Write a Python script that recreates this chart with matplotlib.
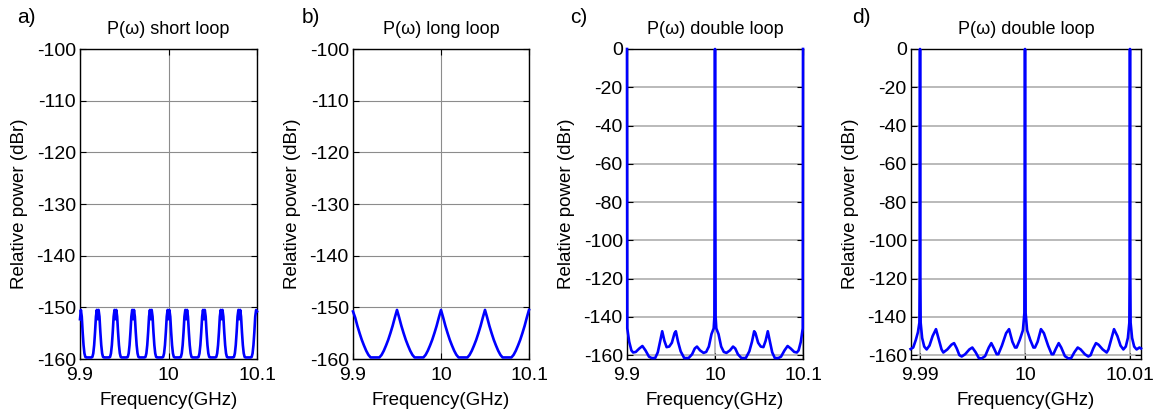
import numpy as np
import matplotlib
matplotlib.use("Agg")
import matplotlib.pyplot as plt

plt.rcParams['font.family'] = ['Liberation Sans', 'DejaVu Sans']
plt.rcParams['axes.unicode_minus'] = False

# ---- data (frequency in GHz, power in dBr) ----
# a) short loop, sampled every 1 MHz from 9.9 to 10.1 GHz
a_power = [
    -152.3, -150.5, -151.8, -154.8, -157.3, -158.9, -159.6, -159.7, -159.7, -159.7, -159.7, -159.7, -159.7, -159.7, -159.6, -158.9, -157.3, -154.8, -151.8, -150.5,
    -152.3, -150.5, -151.8, -154.8, -157.3, -158.9, -159.6, -159.7, -159.7, -159.7, -159.7, -159.7, -159.7, -159.7, -159.6, -158.9, -157.3, -154.8, -151.8, -150.5,
    -152.3, -150.5, -151.8, -154.8, -157.3, -158.9, -159.6, -159.7, -159.7, -159.7, -159.7, -159.7, -159.7, -159.7, -159.6, -158.9, -157.3, -154.8, -151.8, -150.5,
    -152.3, -150.5, -151.8, -154.8, -157.3, -158.9, -159.6, -159.7, -159.7, -159.7, -159.7, -159.7, -159.7, -159.7, -159.6, -158.9, -157.3, -154.8, -151.8, -150.5,
    -152.3, -150.5, -151.8, -154.8, -157.3, -158.9, -159.6, -159.7, -159.7, -159.7, -159.7, -159.7, -159.7, -159.7, -159.6, -158.9, -157.3, -154.8, -151.8, -150.5,
    -152.3, -150.5, -151.8, -154.8, -157.3, -158.9, -159.6, -159.7, -159.7, -159.7, -159.7, -159.7, -159.7, -159.7, -159.6, -158.9, -157.3, -154.8, -151.8, -150.5,
    -152.3, -150.5, -151.8, -154.8, -157.3, -158.9, -159.6, -159.7, -159.7, -159.7, -159.7, -159.7, -159.7, -159.7, -159.6, -158.9, -157.3, -154.8, -151.8, -150.5,
    -152.3, -150.5, -151.8, -154.8, -157.3, -158.9, -159.6, -159.7, -159.7, -159.7, -159.7, -159.7, -159.7, -159.7, -159.6, -158.9, -157.3, -154.8, -151.8, -150.5,
    -152.3, -150.5, -151.8, -154.8, -157.3, -158.9, -159.6, -159.7, -159.7, -159.7, -159.7, -159.7, -159.7, -159.7, -159.6, -158.9, -157.3, -154.8, -151.8, -150.5,
    -152.3, -150.5, -151.8, -154.8, -157.3, -158.9, -159.6, -159.7, -159.7, -159.7, -159.7, -159.7, -159.7, -159.7, -159.6, -158.9, -157.3, -154.8, -151.8, -150.5,
    -150.8,
]
a_freq = np.linspace(9.9, 10.1, len(a_power))

# b) long loop, sampled every 2.5 MHz
b_power = [
    -150.8, -152.0, -153.6, -155.0, -156.3, -157.4, -158.4, -159.2, -159.7, -159.7, -159.7, -159.7, -159.7, -159.2, -158.4, -157.4, -156.3, -155.0, -153.6, -152.0,
    -150.5, -152.0, -153.6, -155.0, -156.3, -157.4, -158.4, -159.2, -159.7, -159.7, -159.7, -159.7, -159.7, -159.2, -158.4, -157.4, -156.3, -155.0, -153.6, -152.0,
    -150.5, -152.0, -153.6, -155.0, -156.3, -157.4, -158.4, -159.2, -159.7, -159.7, -159.7, -159.7, -159.7, -159.2, -158.4, -157.4, -156.3, -155.0, -153.6, -152.0,
    -150.5, -152.0, -153.6, -155.0, -156.3, -157.4, -158.4, -159.2, -159.7, -159.7, -159.7, -159.7, -159.7, -159.2, -158.4, -157.4, -156.3, -155.0, -153.6, -152.0,
    -150.5,
]
b_freq = np.linspace(9.9, 10.1, len(b_power))

# c) double loop, wide span
c_freq = [9.9000, 9.9003, 9.9025, 9.9050, 9.9070, 9.9100, 9.9140, 9.9175, 9.9210, 9.9250,
          9.9280, 9.9320, 9.9350, 9.9380, 9.9400, 9.9425, 9.9450, 9.9480, 9.9510, 9.9540,
          9.9555, 9.9580, 9.9610, 9.9650, 9.9700, 9.9740, 9.9770, 9.9795, 9.9830, 9.9870,
          9.9900, 9.9930, 9.9960, 9.9985, 9.9993, 10.0000,
          10.0007, 10.0015, 10.0040, 10.0070, 10.0100, 10.0130, 10.0170, 10.0205, 10.0230,
          10.0260, 10.0300, 10.0350, 10.0390, 10.0420, 10.0445, 10.0460, 10.0490, 10.0520,
          10.0550, 10.0575, 10.0600, 10.0620, 10.0650, 10.0680, 10.0720, 10.0750, 10.0790,
          10.0825, 10.0860, 10.0900, 10.0930, 10.0950, 10.0975, 10.0997, 10.1000]
c_power = [0, -146.0, -153.0, -157.5, -158.6, -158.3, -156.5, -155.2, -157.5, -160.8,
           -161.5, -161.5, -158.5, -152.0, -147.5, -152.5, -155.8, -155.5, -153.5, -148.5,
           -147.5, -153.0, -158.0, -161.5, -161.5, -159.5, -156.5, -155.5, -157.5, -158.8,
           -158.3, -155.5, -149.0, -146.0, -140.0, 0,
           -140.0, -146.0, -149.0, -155.5, -158.3, -158.8, -157.5, -155.5, -156.5,
           -159.5, -161.5, -161.5, -158.0, -153.0, -147.5, -148.5, -153.5, -155.5,
           -155.8, -152.5, -147.5, -152.0, -158.5, -161.5, -161.5, -160.8, -157.5,
           -155.2, -156.5, -158.3, -158.6, -157.5, -153.0, -146.0, 0]

# d) double loop, narrow span
d_freq = [9.98910, 9.98935, 9.98960, 9.98980, 9.98994, 9.98997, 9.99000,
          9.99003, 9.99006, 9.99020, 9.99040, 9.99063, 9.99090, 9.99120, 9.99152, 9.99180,
          9.99205, 9.99222, 9.99260, 9.99300, 9.99324, 9.99350, 9.99375, 9.99397, 9.99430,
          9.99470, 9.99498, 9.99530, 9.99560, 9.99587, 9.99620, 9.99655, 9.99679, 9.99705,
          9.99730, 9.99746, 9.99780, 9.99820, 9.99848, 9.99880, 9.99905, 9.99920, 9.99950,
          9.99980, 9.99994, 10.00000,
          10.00006, 10.00020, 10.00050, 10.00080, 10.00095, 10.00120, 10.00152, 10.00180,
          10.00220, 10.00254, 10.00270, 10.00295, 10.00321, 10.00345, 10.00380, 10.00413,
          10.00440, 10.00470, 10.00502, 10.00530, 10.00570, 10.00603, 10.00625, 10.00650,
          10.00676, 10.00700, 10.00740, 10.00778, 10.00795, 10.00820, 10.00848, 10.00880,
          10.00910, 10.00937, 10.00960, 10.00980, 10.00994, 10.00997, 10.01000,
          10.01003, 10.01006, 10.01020, 10.01040, 10.01063, 10.01090, 10.01105]
d_power = [-156.8, -156.0, -152.0, -148.0, -143.0, -117.0, 0,
           -117.0, -143.0, -151.0, -155.5, -157.0, -155.0, -150.0, -146.4, -152.0,
           -157.0, -158.6, -157.0, -154.5, -153.7, -156.5, -160.0, -160.7, -159.5,
           -157.0, -156.0, -158.5, -161.5, -161.7, -160.5, -156.0, -153.7, -156.5,
           -159.5, -159.5, -155.0, -148.5, -146.4, -153.0, -156.0, -156.0, -152.0,
           -147.0, -138.0, 0,
           -138.0, -147.0, -152.0, -156.0, -156.0, -153.0, -146.4, -148.5,
           -155.0, -159.5, -159.5, -156.5, -153.7, -156.0, -160.5, -161.7,
           -161.5, -158.5, -156.0, -157.0, -159.5, -160.7, -160.0, -156.5,
           -153.7, -154.5, -157.0, -158.6, -157.0, -152.0, -146.4, -150.0,
           -155.0, -157.0, -155.5, -151.0, -143.0, -117.0, 0,
           -117.0, -143.0, -151.0, -155.5, -157.0, -156.0, -156.5]

titles = ['P(ω) short loop', 'P(ω) long loop', 'P(ω) double loop', 'P(ω) double loop']
letters = ['a)', 'b)', 'c)', 'd)']
xlims = [(9.9, 10.1), (9.9, 10.1), (9.9, 10.1), (9.98914, 10.01105)]
xticks = [[9.9, 10.0, 10.1]] * 3 + [[9.99, 10.0, 10.01]]
xticklabels = [['9.9', '10', '10.1']] * 3 + [['9.99', '10', '10.01']]
ylims = [(-160, -100), (-160, -100), (-162, 0), (-162, 0)]
yticks = [np.arange(-160, -99, 10), np.arange(-160, -99, 10),
          np.arange(-160, 1, 20), np.arange(-160, 1, 20)]
series = [(a_freq, a_power), (b_freq, b_power), (c_freq, c_power), (d_freq, d_power)]

W, H = 1155, 416
fig = plt.figure(figsize=(W / 100, H / 100), dpi=100)

# axes boxes in pixels: left, width
boxes = [(80, 177), (353, 176), (627, 176), (911, 230)]
ax_top, ax_bot = 49, 359
letter_x = [17, 302, 570, 852]
grid_cols = ['#8c8c8c', '#8c8c8c', '#b4b4b4', '#b4b4b4']
grid_lw = [0.8, 0.8, 1.3, 1.3]

for i in range(4):
    left, width = boxes[i]
    ax = fig.add_axes([left / W, (H - ax_bot) / H, width / W, (ax_bot - ax_top) / H])
    x, y = series[i]
    ax.plot(x, y, color='#0000ff', lw=1.9, zorder=3, clip_on=False)
    ax.set_xlim(*xlims[i])
    ax.set_ylim(*ylims[i])
    ax.set_xticks(xticks[i])
    ax.set_xticklabels(xticklabels[i])
    ax.set_yticks(yticks[i])
    ax.grid(True, color=grid_cols[i], lw=grid_lw[i], zorder=0)
    ax.tick_params(direction='in', top=True, right=True, length=4, width=0.8,
                   labelsize=14, pad=3, colors='black')
    ax.tick_params(axis='x', pad=6)
    for sp in ax.spines.values():
        sp.set_linewidth(1.0)
        sp.set_zorder(2)
    ax.set_title(titles[i], fontsize=13, pad=11)
    ax.set_xlabel('Frequency(GHz)', fontsize=13.5)
    ax.xaxis.set_label_coords(0.5, -0.105)
    ax.set_ylabel('Relative power (dBr)', fontsize=13.5)
    ax.yaxis.set_label_coords(-52 / width, 0.5)
    fig.text(letter_x[i] / W, 1 - 8 / H, letters[i], fontsize=15, ha='left', va='top')

fig.savefig('out.png', dpi=100)
